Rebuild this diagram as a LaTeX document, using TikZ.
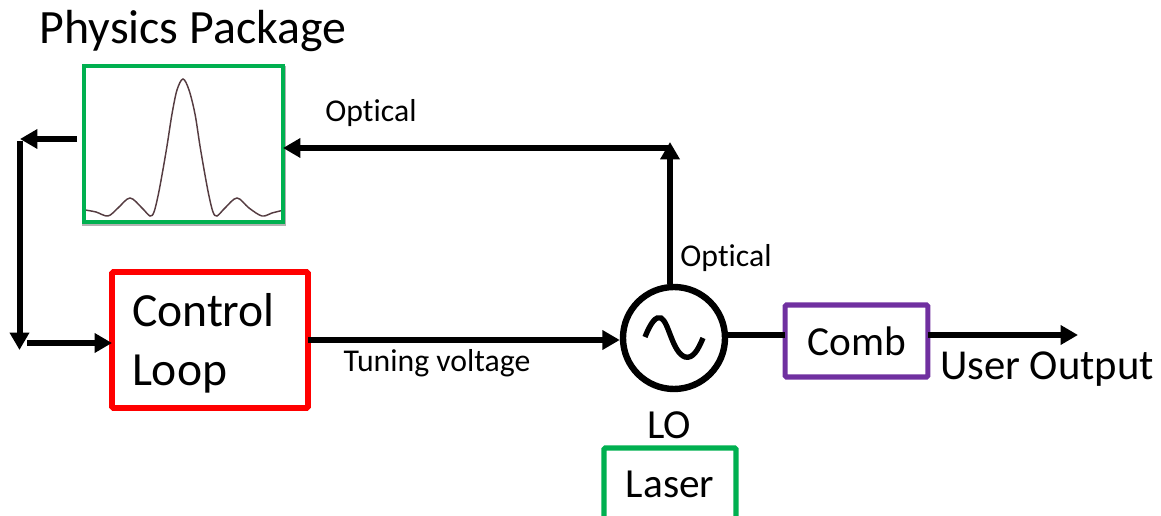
\documentclass[tikz,border=0pt]{standalone}
\usepackage{fontspec}
\setmainfont[Ligatures=CommonOff]{Carlito}
\usetikzlibrary{arrows.meta}
\definecolor{boxgreen}{RGB}{0,176,80}
\definecolor{boxpurple}{RGB}{112,48,160}
\definecolor{curvecol}{RGB}{85,60,65}
\begin{document}
\begin{tikzpicture}[x=0.75pt,y=-0.75pt,
    link/.style={line width=4.5pt,-{Stealth[length=13pt,width=14pt,inset=0pt]}},
    wire/.style={line width=4.5pt},
    block/.style={draw,rounded corners=1pt,inner sep=0pt,outer sep=0pt},
    big/.style={font=\fontsize{31}{37}\selectfont},
    small/.style={font=\fontsize{23.8}{28}\selectfont}]
    \useasboundingbox (0,0) rectangle (1161,516);
    % physics package with its curve
    \node[draw=gray!60,line width=0.8pt,minimum width=151.5pt,minimum height=118.5pt,inner sep=0pt] (pic) at (184,146) {};
    \draw[curvecol,line width=1.1pt] plot[smooth,tension=0.55] coordinates {(85,210) (96,212) (108,216) (118,208) (130,198)
        (142,208) (150,216) (154,212) (158,196) (162,175) (167,146) (172,114) (177,90) (183,79) (189,90) (195,114) (200,146)
        (205,175) (209,196) (213,212) (217,216) (225,208) (237,198) (249,208) (262,216) (272,213) (284,210)};
    \node[draw=boxgreen,line width=2.8pt,minimum width=149.25pt,minimum height=117pt,inner sep=0pt,outer sep=0pt] (phys) at (183.5,144) {};
    \node[font=\fontsize{35.9}{44}\selectfont] (physlabel) at (193,31) {Physics Package};
    % blocks
    \node[block,draw=red,line width=4.3pt,minimum width=147pt,minimum height=102pt] (ctrl) at (210,340) {};
    \node[text width=117pt,align=left,inner sep=0pt,font=\fontsize{35.7}{44}\selectfont] (ctrllabel) at (210,343) {Control\\Loop};
    \node[draw,circle,line width=4.8pt,minimum size=76.5pt,inner sep=0pt] (lo) at (674,338) {};
    \draw[line width=4pt] (645,337) .. controls (651,322) and (656,316) .. (661,318)
        .. controls (669,322) and (672,352) .. (685,357) .. controls (693,359) and (698,350) .. (703,338);
    \node[block,draw=boxpurple,line width=3.8pt,minimum width=107pt,minimum height=54pt,big] (comb) at (856.5,341) {Comb};
    \node[block,draw=boxgreen,line width=4pt,minimum width=99pt,minimum height=54pt,big] (laser) at (670,484) {Laser};
    \node[big] (lolabel) at (669,425) {LO};
    \node[font=\fontsize{32}{38}\selectfont] (userlabel) at (1047,369) {User Output};
    \node[small] (optical) at (371,113) {Optical};
    \node[small] (opticalb) at (726,258) {Optical};
    \node[small] (tuning) at (437,363) {Tuning voltage};
    % free ends of the loop
    \coordinate (physout) at (77,139);
    \coordinate (topleft) at (20,139);
    \coordinate (upright) at (19.5,141);
    \coordinate (downleft) at (19.5,350);
    \coordinate (backstart) at (27,343);
    \coordinate (corner) at (670,148);
    \coordinate (cornertip) at (670,142);
    \coordinate (output) at (1078,335);
    % connectors
    \draw[link] (physout) -- (topleft);
    \draw[link] (upright) -- (downleft);
    \draw[link] (backstart) -- (backstart -| ctrl.west);
    \draw[link] (ctrl.east) -- (lo.west |- ctrl.east);
    \draw[link] (lo.north -| corner) -- (cornertip);
    \draw[link] (corner) -- (corner -| phys.east);
    \draw[wire] (lo.east |- output) -- (comb.west |- output);
    \draw[link] (comb.east |- output) -- (output);
\end{tikzpicture}
\end{document}
